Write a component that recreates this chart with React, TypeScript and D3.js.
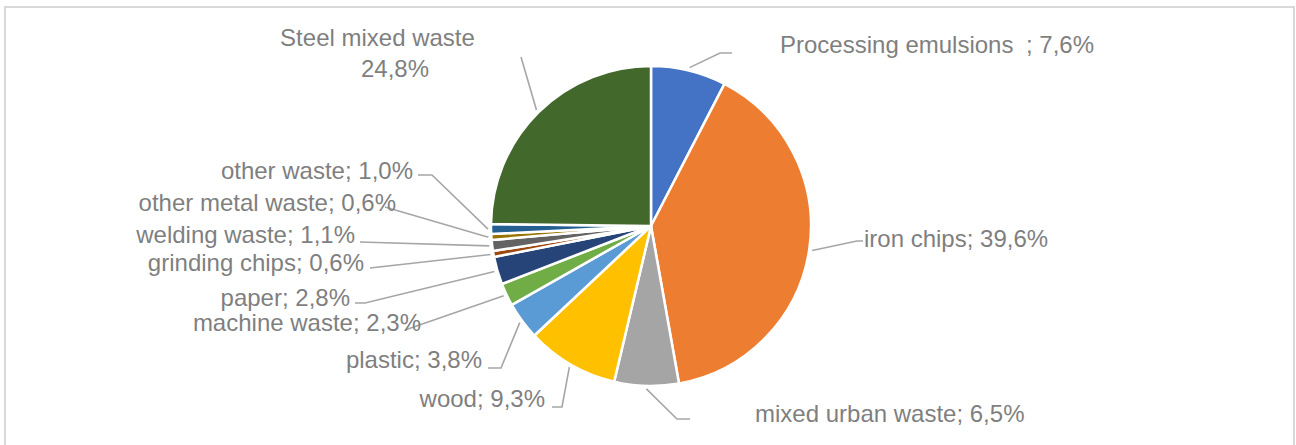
import React from "react";
import * as d3 from "d3";

// ---- data ----
const categories = [
  "Processing emulsions",
  "iron chips",
  "mixed urban waste",
  "wood",
  "plastic",
  "machine waste",
  "paper",
  "grinding chips",
  "welding waste",
  "other metal waste",
  "other waste",
  "Steel mixed waste",
];
const values = [7.6, 39.6, 6.5, 9.3, 3.8, 2.3, 2.8, 0.6, 1.1, 0.6, 1.0, 24.8];
const valueLabels = ["7,6%", "39,6%", "6,5%", "9,3%", "3,8%", "2,3%", "2,8%", "0,6%", "1,1%", "0,6%", "1,0%", "24,8%"];

// ---- styles / layout ----
const colors = [
  "#4472C4", "#ED7D31", "#A5A5A5", "#FFC000", "#5B9BD5", "#70AD47",
  "#264478", "#9E480E", "#636363", "#997300", "#255E91", "#43682B",
];
const W = 1296, H = 445;
const CX = 651, CY = 226, R = 160;
const TEXT_COLOR = "#7F7F7F";
const LINE_COLOR = "#A6A6A6";
const FONT = "'Liberation Sans', Arial, sans-serif";
const FS = 24;

// label layout: elbow points for leader (after the start on the pie edge), text anchor position
type Layout = { pts: [number, number][]; tx: number; ty: number; anchor: "start" | "end" };
const layout: Layout[] = [
  { pts: [[720, 53], [732, 53]], tx: 780, ty: 53, anchor: "start" },
  { pts: [[857, 241], [863, 241]], tx: 864, ty: 247, anchor: "start" },
  { pts: [[677, 419], [690, 419]], tx: 755, ty: 422, anchor: "start" },
  { pts: [[562, 407], [552, 407]], tx: 545, ty: 407, anchor: "end" },
  { pts: [[501, 368], [488, 368]], tx: 482, ty: 368, anchor: "end" },
  { pts: [[405, 330]], tx: 421, ty: 331, anchor: "end" },
  { pts: [[365, 303], [355, 303]], tx: 350, ty: 306, anchor: "end" },
  { pts: [[370, 268]], tx: 364, ty: 271, anchor: "end" },
  { pts: [[360, 242]], tx: 355, ty: 243, anchor: "end" },
  { pts: [[385, 207]], tx: 396, ty: 211, anchor: "end" },
  { pts: [[432, 175], [418, 175]], tx: 413, ty: 179, anchor: "end" },
  { pts: [[521, 57]], tx: 0, ty: 0, anchor: "start" },
];

export default function App() {
  const pie = d3.pie<number>().sort(null).value((d) => d);
  const arcs = pie(values);
  const arc = d3.arc<d3.PieArcDatum<number>>().innerRadius(0).outerRadius(R);
  const line = d3.line();

  return (
    <svg
      width={W}
      height={H}
      style={{ position: "absolute", left: 0, top: 0, background: "#fff" }}
    >
      <rect x={5} y={7} width={1289} height={450} fill="#fff" stroke="#D9D9D9" strokeWidth={2} />
      <g transform={`translate(${CX},${CY})`}>
        {arcs.map((a, i) => (
          <path
            key={i}
            d={arc(a) || ""}
            fill={colors[i]}
            stroke="#fff"
            strokeWidth={2.5}
            strokeLinejoin="round"
          />
        ))}
      </g>
      {arcs.map((a, i) => {
        const mid = (a.startAngle + a.endAngle) / 2;
        const r0 = R + 3;
        const start: [number, number] = [CX + r0 * Math.sin(mid), CY - r0 * Math.cos(mid)];
        const pts = [start, ...layout[i].pts];
        return (
          <path key={"l" + i} d={line(pts) || ""} fill="none" stroke={LINE_COLOR} strokeWidth={1.6} />
        );
      })}
      <g fontFamily={FONT} fontSize={FS} fill={TEXT_COLOR}>
        {categories.map((c, i) => {
          const L = layout[i];
          if (i === 0) {
            return (
              <g key={"t" + i}>
                <text x={L.tx} y={L.ty} textAnchor="start">{c}</text>
                <text x={1026} y={L.ty} textAnchor="start">{"; " + valueLabels[i]}</text>
              </g>
            );
          }
          if (i === categories.length - 1) {
            return (
              <g key={"t" + i}>
                <text x={377.5} y={46} textAnchor="middle">{c}</text>
                <text x={395} y={77} textAnchor="middle">{valueLabels[i]}</text>
              </g>
            );
          }
          return (
            <text key={"t" + i} x={L.tx} y={L.ty} textAnchor={L.anchor}>
              {c + "; " + valueLabels[i]}
            </text>
          );
        })}
      </g>
    </svg>
  );
}
